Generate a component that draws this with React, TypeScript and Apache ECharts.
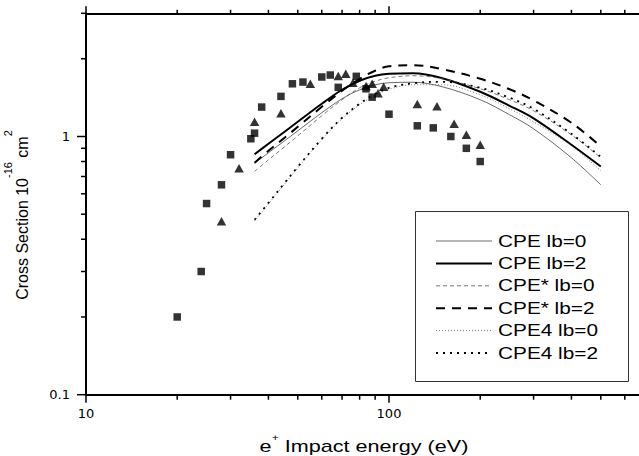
import React, { useEffect, useRef } from "react";
import * as echarts from "echarts";

// ---- data ----
const energy = [36, 40, 45, 50, 60, 70, 80, 90, 100, 120, 150, 200, 250, 300, 400, 500];
const cpeLb0 = [0.787, 0.865, 0.958, 1.052, 1.236, 1.4, 1.517, 1.586, 1.615, 1.622, 1.558, 1.388, 1.214, 1.071, 0.827, 0.65];
const cpeLb2 = [0.853, 0.937, 1.038, 1.14, 1.339, 1.517, 1.644, 1.719, 1.75, 1.758, 1.681, 1.49, 1.315, 1.176, 0.929, 0.765];
const cpeStarLb0 = [0.733, 0.812, 0.908, 1.006, 1.203, 1.388, 1.544, 1.637, 1.688, 1.719, 1.673, 1.531, 1.388, 1.258, 1.015, 0.827];
const cpeStarLb2 = [0.791, 0.88, 0.984, 1.09, 1.303, 1.503, 1.673, 1.798, 1.871, 1.888, 1.822, 1.673, 1.524, 1.381, 1.13, 0.915];
const cpe4Lb0 = [0.471, 0.548, 0.65, 0.756, 0.971, 1.171, 1.327, 1.444, 1.524, 1.586, 1.586, 1.45, 1.28, 1.14, 0.92, 0.736];
const cpe4Lb2 = [0.476, 0.553, 0.656, 0.763, 0.98, 1.182, 1.339, 1.464, 1.544, 1.608, 1.629, 1.544, 1.413, 1.28, 1.024, 0.834];

const squareEnergy = [20, 24, 25, 28, 30, 35, 36, 38, 44, 48, 52, 60, 64, 68, 78, 84, 88, 100, 124, 140, 160, 180, 200];
const squareSigma = [0.2, 0.3, 0.55, 0.65, 0.85, 0.98, 1.03, 1.3, 1.43, 1.6, 1.625, 1.7, 1.73, 1.55, 1.71, 1.53, 1.42, 1.22, 1.1, 1.08, 1.0, 0.9, 0.8];
const triangleEnergy = [28, 32, 36, 44, 55, 68, 72, 76, 84, 88, 92, 96, 124, 144, 164, 180, 200];
const triangleSigma = [0.47, 0.754, 1.14, 1.23, 1.6, 1.715, 1.75, 1.615, 1.57, 1.6, 1.47, 1.56, 1.335, 1.31, 1.12, 1.015, 0.93];

const seriesNames = ["CPE lb=0", "CPE lb=2", "CPE* lb=0", "CPE* lb=2", "CPE4 lb=0", "CPE4 lb=2"];
const seriesValues = [cpeLb0, cpeLb2, cpeStarLb0, cpeStarLb2, cpe4Lb0, cpe4Lb2];

const xRange = [10, 1000];
const yRange = [0.1, 3];
const xMajorTicks = [10, 100];
const xMinorTicks = [20, 30, 40, 50, 60, 70, 80, 90, 200, 300, 400, 500, 600];
const yMajorTicks = [0.1, 1];
const yMinorTicks = [0.2, 0.3, 0.4, 0.5, 0.6, 0.7, 0.8, 0.9, 2, 3];

// ---- styles ----
const lineStyles: { color: string; width: number; dash: number[] | null }[] = [
  { color: "#444", width: 0.8, dash: null },
  { color: "#000", width: 2, dash: null },
  { color: "#555", width: 0.8, dash: [4, 3] },
  { color: "#000", width: 2, dash: [9, 7] },
  { color: "#555", width: 0.8, dash: [1, 2] },
  { color: "#000", width: 1.8, dash: [2, 5] },
];

const FONT = "Liberation Sans";

function tickSeries(values: number[], onX: boolean, lens: number[]) {
  return {
    type: "custom",
    silent: true,
    clip: false,
    z: 10,
    data: values.map((v) => (onX ? [v, yRange[0]] : [xRange[0], v])),
    encode: { x: 0, y: 1 },
    renderItem: (_p: any, api: any) => {
      const v0 = api.value(0);
      const v1 = api.value(1);
      const children: any[] = [];
      if (onX) {
        const b = api.coord([v0, yRange[0]]);
        const t = api.coord([v0, yRange[1]]);
        children.push({ type: "line", shape: { x1: b[0], y1: b[1], x2: b[0], y2: b[1] + lens[0] }, style: { stroke: "#000", lineWidth: 1.5 } });
        children.push({ type: "line", shape: { x1: t[0], y1: t[1], x2: t[0], y2: t[1] - lens[1] }, style: { stroke: "#000", lineWidth: 1.5 } });
      } else {
        const l = api.coord([xRange[0], v1]);
        children.push({ type: "line", shape: { x1: l[0], y1: l[1], x2: l[0] - lens[0], y2: l[1] }, style: { stroke: "#000", lineWidth: 1.5 } });
      }
      return { type: "group", children };
    },
  };
}

export default function App() {
  const ref = useRef<HTMLDivElement>(null);
  useEffect(() => {
    if (!ref.current) return;
    const chart = echarts.init(ref.current, undefined, { renderer: "svg" });

    const lineSeries = seriesNames.map((name, i) => ({
      name,
      type: "line",
      smooth: 0.35,
      symbol: "none",
      z: 3,
      data: energy.map((e, k) => [e, seriesValues[i][k]]),
      lineStyle: {
        color: lineStyles[i].color,
        width: lineStyles[i].width,
        type: lineStyles[i].dash ? lineStyles[i].dash : "solid",
      },
    }));

    const rowGap = 22.4;
    const legendChildren: any[] = [
      { type: "rect", shape: { x: 0.5, y: 0.5, width: 213, height: 170 }, style: { fill: "#fff", stroke: "#333", lineWidth: 1 } },
    ];
    seriesNames.forEach((name, i) => {
      const y = 30 + i * rowGap;
      legendChildren.push({
        type: "line",
        shape: { x1: 21, y1: y, x2: 77, y2: y },
        style: { stroke: lineStyles[i].color, lineWidth: lineStyles[i].width, lineDash: lineStyles[i].dash || null },
      });
      legendChildren.push({
        type: "text",
        x: 83,
        y: y,
        scaleX: 1.3,
        style: { text: name, fontSize: 16, fontFamily: FONT, fill: "#000", align: "left", verticalAlign: "middle" },
      });
    });

    const option: any = {
      animation: false,
      backgroundColor: "#fff",
      textStyle: { fontFamily: FONT },
      grid: { left: 86, top: 13.3, right: -53, height: 381.4, containLabel: false, outerBoundsMode: "none" },
      xAxis: [
        {
          type: "log",
          logBase: 10,
          min: xRange[0],
          max: xRange[1],
          position: "bottom",
          axisLine: { show: true, onZero: false, lineStyle: { color: "#000", width: 2 } },
          axisTick: { show: false },
          splitLine: { show: false },
          axisLabel: { margin: 12, fontSize: 13, color: "#000", fontFamily: "DejaVu Sans", showMaxLabel: false },
        },
        {
          type: "log",
          logBase: 10,
          min: xRange[0],
          max: xRange[1],
          position: "top",
          axisLine: { show: true, onZero: false, lineStyle: { color: "#000", width: 2 } },
          axisTick: { show: false },
          splitLine: { show: false },
          axisLabel: { show: false },
        },
      ],
      yAxis: {
        type: "log",
        logBase: 10,
        min: yRange[0],
        max: yRange[1],
        axisLine: { show: true, onZero: false, lineStyle: { color: "#000", width: 2 } },
        axisTick: { show: false },
        splitLine: { show: false },
        axisLabel: { margin: 16, fontSize: 13, color: "#000", fontFamily: "DejaVu Sans", showMaxLabel: false },
      },
      series: [
        ...lineSeries,
        {
          name: "squares",
          type: "scatter",
          symbol: "rect",
          symbolSize: 7.5,
          z: 5,
          itemStyle: { color: "#000" },
          data: squareEnergy.map((e, k) => [e, squareSigma[k]]),
        },
        {
          name: "triangles",
          type: "scatter",
          symbol: "triangle",
          symbolSize: [9.5, 8.5],
          z: 5,
          itemStyle: { color: "#000" },
          data: triangleEnergy.map((e, k) => [e, triangleSigma[k]]),
        },
        tickSeries(xMajorTicks, true, [8, 7]),
        tickSeries(xMinorTicks, true, [5, 3.5]),
        tickSeries(yMajorTicks, false, [9]),
        tickSeries(yMinorTicks, false, [5]),
      ],
      graphic: [
        { type: "group", x: 415, y: 211, z: 100, children: legendChildren },
        {
          type: "text",
          x: 364,
          y: 444,
          scaleX: 1.35,
          z: 100,
          style: {
            text: "{m|e}{s|+}{m| Impact energy (eV)}",
            align: "center",
            verticalAlign: "middle",
            fill: "#000",
            rich: {
              m: { fontSize: 16, fontFamily: FONT, lineHeight: 22, verticalAlign: "bottom", fill: "#000" },
              s: { fontSize: 9, fontFamily: FONT, lineHeight: 10, verticalAlign: "top", fill: "#000" },
            },
          },
        },
        {
          type: "text",
          x: 16,
          y: 215,
          rotation: Math.PI / 2,
          z: 100,
          style: {
            text: "{m|Cross Section 10}{s|-16}{m| cm}{s|2}",
            align: "center",
            verticalAlign: "middle",
            fill: "#000",
            rich: {
              m: { fontSize: 16, fontFamily: FONT, lineHeight: 28, verticalAlign: "bottom", fill: "#000" },
              s: { fontSize: 11, fontFamily: FONT, lineHeight: 14, verticalAlign: "top", fill: "#000" },
            },
          },
        },
      ],
    };
    chart.setOption(option);
    return () => chart.dispose();
  }, []);
  return <div ref={ref} style={{ position: "fixed", left: 0, top: 0, width: 639, height: 456 }} />;
}
